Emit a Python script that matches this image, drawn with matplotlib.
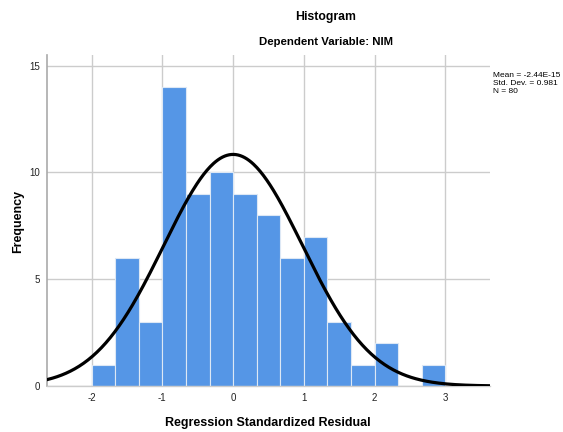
import numpy as np
import matplotlib
matplotlib.use("Agg")
import matplotlib.pyplot as plt

plt.rcParams['font.family'] = ['Liberation Sans', 'DejaVu Sans']

bin_edges = [-2, -5/3, -4/3, -1, -2/3, -1/3, 0, 1/3, 2/3, 1, 4/3, 5/3, 2, 7/3, 8/3, 3]
counts = [1, 6, 3, 14, 9, 10, 9, 8, 6, 7, 3, 1, 2, 0, 1]
mean = -2.44e-15
std = 0.981
n = 80
x_ticks = [-2, -1, 0, 1, 2, 3]
y_ticks = [0, 5, 10, 15]

fig = plt.figure(figsize=(5.63, 4.32), dpi=100)
ax = fig.add_axes([47/563, 46/432, (490-47)/563, (386-55)/432])

edges = np.array(bin_edges)
widths = np.diff(edges)
ax.bar(edges[:-1], counts, width=widths, align='edge', color='#5596e6',
       edgecolor='#dde8f5', linewidth=0.8, zorder=2)

xmin, xmax = -2.63, 3.63
xs = np.linspace(xmin, xmax, 400)
bw = widths[0]
ys = n * bw / (std * np.sqrt(2 * np.pi)) * np.exp(-0.5 * ((xs - mean) / std) ** 2)
ax.plot(xs, ys, color='black', linewidth=2.3, zorder=3)

ax.set_xlim(xmin, xmax)
ax.set_ylim(0, 15.5)
ax.set_xticks(x_ticks)
ax.set_xticklabels([str(t) for t in x_ticks])
ax.set_yticks(y_ticks)
ax.grid(True, color='#cccccc', linewidth=1.0, zorder=0)
ax.set_axisbelow(True)
ax.tick_params(length=0, labelsize=7, colors='#222222', pad=5)
for s in ['top', 'right']:
    ax.spines[s].set_visible(False)
ax.spines['left'].set_color('#aaaaaa')
ax.spines['left'].set_linewidth(1.2)
ax.spines['bottom'].set_color('#cccccc')
ax.spines['bottom'].set_linewidth(1.0)

fig.text(268/563, 1 - 423/432, 'Regression Standardized Residual', ha='center', va='center',
         fontsize=9, fontweight='bold')
fig.text(18/563, 1 - 221/432, 'Frequency', ha='center', va='center', rotation=90,
         fontsize=9, fontweight='bold')

fig.text(326/563, 1 - 17/432, 'Histogram', ha='center', va='center', fontsize=8.8, fontweight='bold')
fig.text(326/563, 1 - 42/432, 'Dependent Variable: NIM', ha='center', va='center', fontsize=8.2, fontweight='bold')

fig.text(493/563, 1 - 72/432, 'Mean = -2.44E-15\nStd. Dev. = 0.981\nN = 80',
         ha='left', va='top', fontsize=6, linespacing=1.2)

fig.savefig('out.png', dpi=100)
